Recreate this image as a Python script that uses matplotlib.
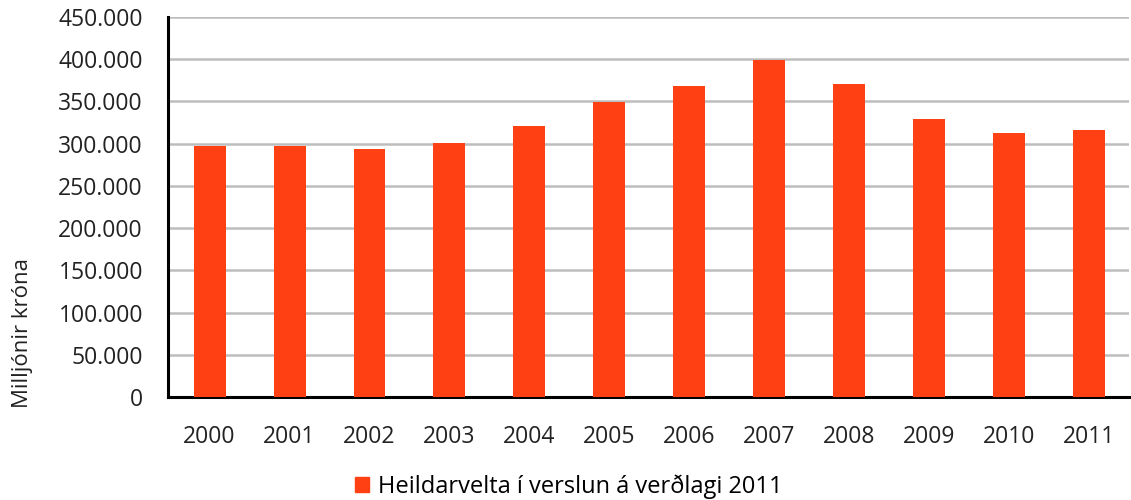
import matplotlib
matplotlib.use("Agg")
import matplotlib.pyplot as plt
import matplotlib.ticker as mticker

# Heildarvelta í verslun á verðlagi 2011 (milljónir króna)
ar = ["2000", "2001", "2002", "2003", "2004", "2005",
      "2006", "2007", "2008", "2009", "2010", "2011"]
velta = [296800, 297000, 293600, 301200, 320500, 349800,
         368600, 399200, 371000, 329800, 313000, 316100]
LITUR = "#FF4013"

plt.rcParams.update({"font.family": ["Open Sans", "DejaVu Sans"], "font.size": 13})

fig = plt.figure(figsize=(11.31, 5), dpi=100)
ax = fig.add_axes([0.1485, 0.206, 0.85, 0.76])
x = range(len(ar))
ax.bar(x, velta, width=0.4, color=LITUR, zorder=3)
ax.set_xlim(-0.52, len(ar) - 0.5)
ax.set_ylim(0, 450000)
ax.yaxis.set_major_locator(mticker.MultipleLocator(50000))
ax.yaxis.set_major_formatter(mticker.FuncFormatter(lambda v, _: f"{v:,.0f}".replace(",", ".")))
ax.set_xticks(list(x))
ax.set_xticklabels(ar)
ax.grid(axis="y", color="#bdbdbd", lw=1.8, zorder=0)
for s in ("top", "right"):
    ax.spines[s].set_visible(False)
for s in ("left", "bottom"):
    ax.spines[s].set_linewidth(2.2)
    ax.spines[s].set_color("black")
ax.tick_params(axis="both", length=0, labelsize=16.5, colors="#222222")
ax.tick_params(axis="y", pad=18)
ax.tick_params(axis="x", pad=20)

fig.text(0.02, 0.334, "Milljónir króna", rotation=90, va="center", ha="center",
         fontsize=16, color="#222222")
h = plt.Rectangle((0, 0), 1, 1, color=LITUR)
fig.legend([h], ["Heildarvelta í verslun á verðlagi 2011"], loc="center",
           bbox_to_anchor=(0.503, 0.026), frameon=False, fontsize=17,
           handlelength=0.6, handleheight=0.6, handletextpad=0.4)

fig.savefig("out.png", dpi=100)
